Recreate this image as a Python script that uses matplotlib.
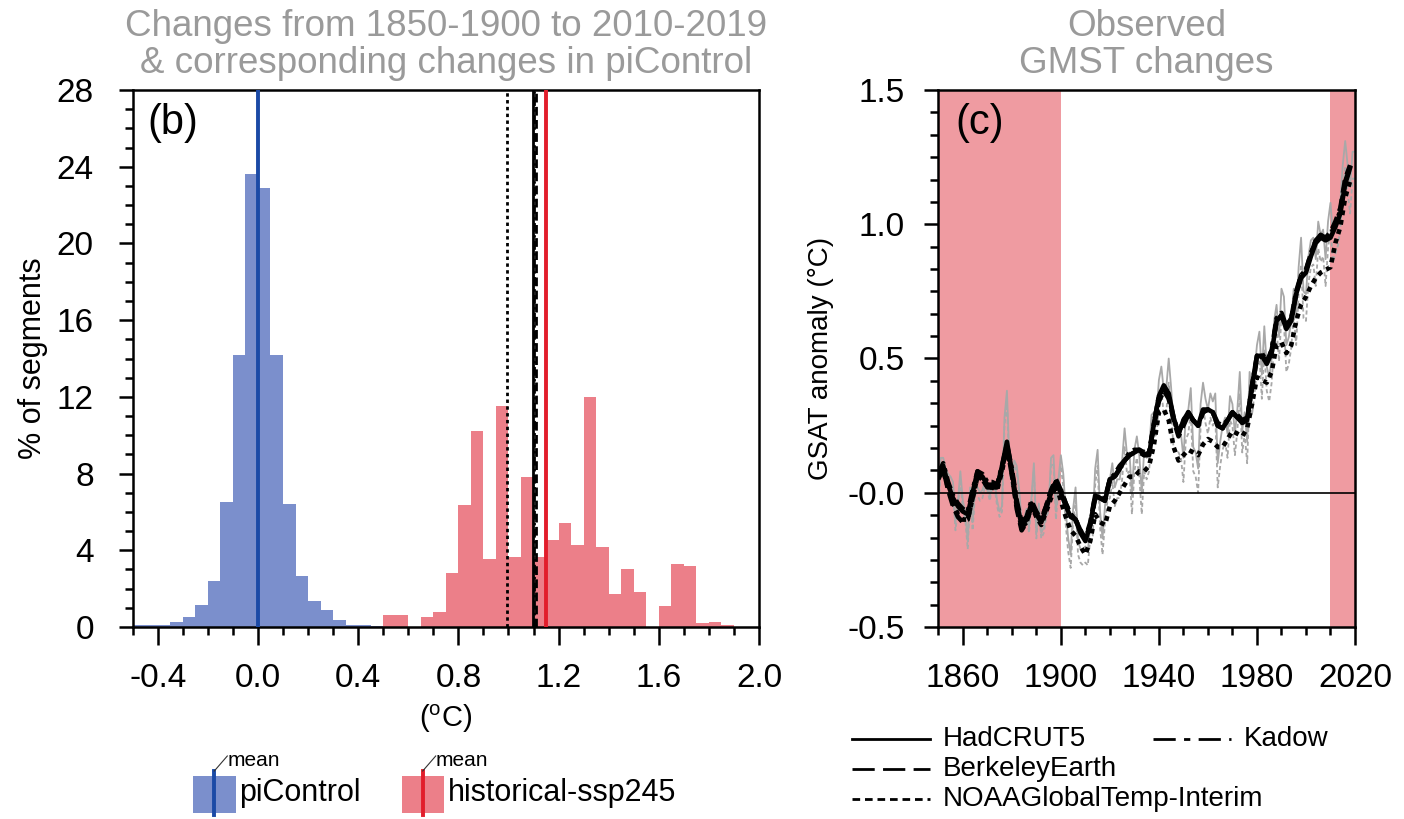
import numpy as np
import matplotlib
matplotlib.use('Agg')
import matplotlib.pyplot as plt
from matplotlib.patches import Rectangle
from matplotlib.lines import Line2D
from matplotlib.ticker import MultipleLocator

plt.rcParams['font.family'] = ['Liberation Sans', 'DejaVu Sans']
plt.rcParams['mathtext.fontset'] = 'custom'
plt.rcParams['mathtext.rm'] = 'Liberation Sans'
plt.rcParams['lines.scale_dashes'] = False

# ---- panel (b): histograms of changes (% of segments), 0.05 degC bins
BIN = 0.05
pi_bin_start = np.round(np.arange(-0.5, 0.5, BIN), 2)
pi_pct = [0.08, 0.10, 0.12, 0.28, 0.50, 1.15, 2.40, 6.50, 14.2, 23.6,
          22.9, 14.2, 6.40, 2.65, 1.35, 0.90, 0.38, 0.13, 0.10, 0.05]
hist_bin_start = np.round(np.arange(0.5, 1.9, BIN), 2)
hist_pct = [0.64, 0.64, 0.0, 0.52, 0.80, 2.80, 6.35, 10.2, 3.55, 11.5,
            3.65, 7.80, 3.65, 4.55, 5.40, 4.25, 12.0, 4.15, 1.70, 3.05,
            1.80, 0.0, 1.10, 3.30, 3.20, 0.20, 0.25, 0.10]
pi_mean = 0.0
hist_mean = 1.15
obs_names = ['HadCRUT5', 'BerkeleyEarth', 'NOAAGlobalTemp-Interim', 'Kadow']
obs_change = [1.097, 1.110, 0.995, 1.100]

# ---- panel (c): observed GMST anomalies relative to 1850-1900
years = np.arange(1850, 2021)
hadcrut5_annual = [
    -0.06, 0.13, 0.13, 0.09, 0.07, 0.06, 0.04, -0.11, -0.03, 0.08,
    -0.03, -0.07, -0.18, 0.02, -0.11, 0.03, 0.02, 0.00, 0.01, 0.04,
    0.03, -0.01, 0.04, 0.04, -0.03, -0.07, -0.05, 0.28, 0.38, 0.12,
    0.04, 0.12, 0.10, 0.01, -0.11, -0.10, -0.06, -0.13, -0.02, 0.11,
    -0.15, -0.04, -0.15, -0.13, -0.07, -0.05, 0.13, 0.14, -0.07, 0.05,
    0.14, 0.07, -0.07, -0.17, -0.23, -0.06, 0.02, -0.18, -0.21, -0.21,
    -0.20, -0.22, -0.12, -0.11, 0.09, 0.16, -0.07, -0.17, -0.05, 0.03,
    0.05, 0.11, 0.02, 0.05, 0.05, 0.12, 0.24, 0.14, 0.15, -0.01,
    0.16, 0.21, 0.14, 0.00, 0.16, 0.13, 0.16, 0.29, 0.30, 0.29,
    0.42, 0.47, 0.38, 0.39, 0.50, 0.39, 0.25, 0.25, 0.24, 0.22,
    0.13, 0.29, 0.31, 0.39, 0.17, 0.15, 0.09, 0.33, 0.41, 0.35,
    0.31, 0.37, 0.34, 0.37, 0.11, 0.19, 0.25, 0.28, 0.22, 0.36,
    0.33, 0.22, 0.31, 0.45, 0.23, 0.30, 0.19, 0.45, 0.37, 0.45,
    0.55, 0.60, 0.44, 0.62, 0.47, 0.43, 0.50, 0.64, 0.70, 0.58,
    0.76, 0.73, 0.55, 0.58, 0.64, 0.76, 0.65, 0.84, 0.95, 0.75,
    0.74, 0.88, 0.94, 0.95, 0.87, 1.01, 0.96, 0.98, 0.87, 1.01,
    1.08, 0.96, 0.99, 1.02, 1.08, 1.22, 1.31, 1.22, 1.14, 1.27,
    1.27]
noaa_annual = [
    -0.08, 0.10, 0.11, 0.06, 0.05, 0.03, 0.01, -0.14, -0.06, 0.05,
    -0.06, -0.10, -0.21, -0.01, -0.14, 0.00, -0.01, -0.03, -0.02, 0.02,
    0.01, -0.03, 0.02, 0.02, -0.05, -0.09, -0.07, 0.25, 0.33, 0.09,
    0.02, 0.10, 0.08, -0.01, -0.13, -0.12, -0.08, -0.15, -0.04, 0.09,
    -0.17, -0.06, -0.17, -0.15, -0.09, -0.07, 0.10, 0.11, -0.10, 0.02,
    0.10, 0.02, -0.12, -0.22, -0.28, -0.11, -0.03, -0.23, -0.26, -0.27,
    -0.26, -0.27, -0.17, -0.16, 0.03, 0.10, -0.13, -0.23, -0.11, -0.03,
    -0.02, 0.04, -0.05, -0.02, -0.02, 0.05, 0.17, 0.07, 0.08, -0.08,
    0.08, 0.13, 0.06, -0.08, 0.08, 0.05, 0.08, 0.21, 0.22, 0.21,
    0.33, 0.38, 0.29, 0.30, 0.41, 0.30, 0.16, 0.16, 0.15, 0.13,
    0.04, 0.20, 0.22, 0.30, 0.08, 0.06, 0.00, 0.24, 0.32, 0.26,
    0.22, 0.28, 0.25, 0.28, 0.02, 0.10, 0.16, 0.19, 0.13, 0.27,
    0.25, 0.14, 0.23, 0.37, 0.15, 0.22, 0.11, 0.37, 0.29, 0.37,
    0.46, 0.51, 0.35, 0.53, 0.38, 0.34, 0.41, 0.55, 0.61, 0.49,
    0.66, 0.63, 0.45, 0.48, 0.54, 0.66, 0.55, 0.74, 0.85, 0.65,
    0.64, 0.78, 0.84, 0.85, 0.77, 0.91, 0.86, 0.88, 0.77, 0.91,
    0.98, 0.86, 0.89, 0.92, 0.98, 1.12, 1.21, 1.12, 1.04, 1.17,
    1.17]

# smoothed curves, every second year 1850-2018
smooth_years = np.arange(1850, 2019, 2)
hadcrut5_smooth = [
    0.08, 0.10, 0.03, -0.02, -0.05, -0.07, -0.08, 0.00, 0.08, 0.06,
    0.03, 0.03, 0.02, 0.10, 0.19, 0.08, -0.04, -0.12, -0.10, -0.04,
    -0.08, -0.11, -0.06, 0.00, 0.04, 0.00, -0.05, -0.09, -0.10, -0.15,
    -0.18, -0.12, -0.01, -0.02, -0.03, 0.05, 0.06, 0.09, 0.12, 0.14,
    0.15, 0.16, 0.14, 0.14, 0.26, 0.36, 0.40, 0.37, 0.28, 0.22,
    0.27, 0.30, 0.27, 0.25, 0.31, 0.31, 0.30, 0.25, 0.24, 0.27,
    0.30, 0.28, 0.26, 0.27, 0.40, 0.51, 0.51, 0.48, 0.52, 0.64,
    0.66, 0.61, 0.64, 0.74, 0.80, 0.82, 0.88, 0.93, 0.95, 0.94,
    0.95, 0.99, 1.04, 1.15, 1.21]
berkeley_smooth = [
    0.05, 0.09, 0.01, -0.05, -0.09, -0.11, -0.10, -0.02, 0.06, 0.05,
    0.02, 0.02, 0.02, 0.09, 0.17, 0.07, -0.06, -0.14, -0.11, -0.05,
    -0.08, -0.10, -0.05, 0.01, 0.05, 0.01, -0.04, -0.08, -0.10, -0.14,
    -0.17, -0.11, -0.01, -0.02, -0.03, 0.05, 0.06, 0.09, 0.12, 0.14,
    0.15, 0.15, 0.14, 0.15, 0.25, 0.34, 0.38, 0.35, 0.27, 0.21,
    0.25, 0.29, 0.27, 0.25, 0.30, 0.31, 0.30, 0.26, 0.25, 0.27,
    0.30, 0.29, 0.27, 0.28, 0.39, 0.50, 0.51, 0.49, 0.53, 0.64,
    0.66, 0.62, 0.65, 0.74, 0.81, 0.83, 0.89, 0.94, 0.96, 0.95,
    0.97, 1.01, 1.06, 1.17, 1.22]
noaa_smooth = [
    0.06, 0.08, 0.02, -0.04, -0.08, -0.10, -0.10, -0.02, 0.06, 0.05,
    0.02, 0.02, 0.01, 0.08, 0.17, 0.07, -0.05, -0.13, -0.11, -0.05,
    -0.09, -0.12, -0.07, -0.02, 0.03, -0.03, -0.09, -0.14, -0.16, -0.20,
    -0.23, -0.18, -0.08, -0.11, -0.12, -0.05, -0.03, 0.00, 0.03, 0.06,
    0.06, 0.08, 0.08, 0.10, 0.18, 0.30, 0.31, 0.27, 0.17, 0.12,
    0.14, 0.16, 0.15, 0.14, 0.18, 0.20, 0.19, 0.17, 0.17, 0.20,
    0.23, 0.22, 0.21, 0.24, 0.33, 0.43, 0.42, 0.41, 0.45, 0.55,
    0.56, 0.52, 0.55, 0.64, 0.70, 0.73, 0.77, 0.80, 0.82, 0.83,
    0.84, 0.93, 0.99, 1.10, 1.16]
kadow_smooth = [
    0.07, 0.11, 0.04, -0.01, -0.04, -0.06, -0.07, 0.01, 0.08, 0.07,
    0.04, 0.04, 0.03, 0.10, 0.18, 0.09, -0.03, -0.11, -0.09, -0.03,
    -0.07, -0.10, -0.05, 0.01, 0.04, 0.01, -0.04, -0.08, -0.10, -0.14,
    -0.17, -0.12, -0.02, -0.02, -0.02, 0.05, 0.07, 0.10, 0.12, 0.15,
    0.16, 0.16, 0.15, 0.15, 0.26, 0.36, 0.39, 0.36, 0.28, 0.22,
    0.27, 0.30, 0.27, 0.25, 0.30, 0.31, 0.30, 0.25, 0.24, 0.27,
    0.30, 0.28, 0.27, 0.27, 0.40, 0.51, 0.52, 0.49, 0.53, 0.65,
    0.67, 0.62, 0.65, 0.75, 0.81, 0.83, 0.89, 0.94, 0.96, 0.95,
    0.96, 1.00, 1.05, 1.16, 1.21]
baseline_period = [1850, 1900]
recent_period = [2010, 2020]
gsat_ticks = [-0.5, 0.0, 0.5, 1.0, 1.5]
gsat_ticklabels = ['-0.5', '-0.0', '0.5', '1.0', '1.5']

# ---- styles
BLUE_FILL = '#7b8fcc'
BLUE_LINE = '#1b4aa6'
RED_FILL = '#ec7f89'
RED_LINE = '#e21d2b'
SHADE = '#ef9ba1'
GREY_TXT = '#9a9a9a'
GREY_LINE = '#a8a8a8'
# dash patterns (points) for the thick curves and for the legend keys
DASHES = {'HadCRUT5': None, 'BerkeleyEarth': (9, 4.5),
          'NOAAGlobalTemp-Interim': (3.5, 3.5), 'Kadow': (9, 3.5, 2.5, 3.5)}
LEG_DASHES = {'HadCRUT5': None, 'BerkeleyEarth': (16, 6),
              'NOAAGlobalTemp-Interim': (5.5, 3.5),
              'Kadow': (16, 6, 4.5, 6)}

W, H = 1404, 819
fig = plt.figure(figsize=(W / 100, H / 100), dpi=100)


def fx(px):
    return px / W


def fy(py):
    return 1 - py / H


def style_axes(ax):
    for s in ax.spines.values():
        s.set_linewidth(1.8)
    ax.tick_params(which='both', direction='out', width=1.8,
                   top=False, right=False, labelsize=24)
    ax.tick_params(which='major', length=10)
    ax.tick_params(which='minor', length=5.5)


# ================= panel (b)
ax1 = fig.add_axes([fx(132.7), fy(627), (759 - 132.7) / W, (627 - 90) / H])
ax1.bar(pi_bin_start, pi_pct, width=BIN, align='edge', color=BLUE_FILL,
        linewidth=0, zorder=1)
ax1.bar(hist_bin_start, hist_pct, width=BIN, align='edge', color=RED_FILL,
        linewidth=0, zorder=1)
ax1.axvline(pi_mean, color=BLUE_LINE, lw=2.8, zorder=3)
for name, val in zip(obs_names, obs_change):
    ln = ax1.axvline(val, color='black', lw=2.0, zorder=3)
    if DASHES[name] is not None:
        ln.set_dashes(tuple(x * 0.7 for x in DASHES[name]))
ax1.axvline(hist_mean, color=RED_LINE, lw=2.8, zorder=4)

ax1.set_xlim(-0.5, 2.0)
ax1.set_ylim(0, 28)
ax1.xaxis.set_major_locator(MultipleLocator(0.4))
ax1.xaxis.set_minor_locator(MultipleLocator(0.1))
ax1.yaxis.set_major_locator(MultipleLocator(4))
ax1.yaxis.set_minor_locator(MultipleLocator(1))
ax1.xaxis.set_major_formatter(plt.FuncFormatter(lambda v, p: '%.1f' % v))
style_axes(ax1)
ax1.tick_params(axis='x', which='major', length=13, pad=13)
ax1.tick_params(axis='y', which='major', pad=18)
ax1.set_ylabel('% of segments', fontsize=22, labelpad=6)
ax1.set_xlabel(r'($^{\rm o}$C)', fontsize=21, labelpad=6)
ax1.set_title('Changes from 1850-1900 to 2010-2019\n'
              '& corresponding changes in piControl',
              color=GREY_TXT, fontsize=26.5, linespacing=1.1, pad=12)
ax1.text(0.024, 0.975, '(b)', transform=ax1.transAxes, fontsize=30,
         va='top', ha='left')

# ================= panel (c)
ax2 = fig.add_axes([fx(938.3), fy(627), (1355 - 938.3) / W, (627 - 90) / H])
ax2.axvspan(*baseline_period, color=SHADE, lw=0, zorder=0)
ax2.axvspan(*recent_period, color=SHADE, lw=0, zorder=0)
ax2.plot(years, hadcrut5_annual, color=GREY_LINE, lw=1.3, zorder=2)
ax2.plot(years, noaa_annual, color=GREY_LINE, lw=1.3, dashes=(3, 2),
         zorder=2)
ax2.axhline(0, color='black', lw=1.2, zorder=3)
smooth = {'HadCRUT5': hadcrut5_smooth, 'BerkeleyEarth': berkeley_smooth,
          'NOAAGlobalTemp-Interim': noaa_smooth, 'Kadow': kadow_smooth}
for name in ['NOAAGlobalTemp-Interim', 'Kadow', 'BerkeleyEarth', 'HadCRUT5']:
    ln, = ax2.plot(smooth_years, smooth[name], color='black', lw=3.3,
                   zorder=4, solid_joinstyle='round')
    if DASHES[name] is not None:
        ln.set_dashes(DASHES[name])

ax2.set_xlim(1850, 2020)
ax2.set_ylim(-0.5, 1.5)
ax2.xaxis.set_minor_locator(MultipleLocator(10))
ax2.set_xticks([1860, 1900, 1940, 1980, 2020])
ax2.set_yticks(gsat_ticks)
ax2.set_yticklabels(gsat_ticklabels)
ax2.yaxis.set_minor_locator(MultipleLocator(0.5 / 6))
style_axes(ax2)
ax2.tick_params(axis='x', which='major', length=13, pad=13)
ax2.tick_params(axis='y', which='major', pad=14)
ax2.set_ylabel('GSAT anomaly (°C)', fontsize=20, labelpad=10)
ax2.set_title('Observed\nGMST changes', color=GREY_TXT, fontsize=26.5,
              linespacing=1.1, pad=12)
ax2.text(0.04, 0.975, '(c)', transform=ax2.transAxes, fontsize=30,
         va='top', ha='left')

# ================= legend, panel (b)
for x0, fill, line, label in [(193.3, BLUE_FILL, BLUE_LINE, 'piControl'),
                              (401.7, RED_FILL, RED_LINE,
                               'historical-ssp245')]:
    fig.add_artist(Rectangle((fx(x0), fy(812.7)), 42.4 / W, 37 / H,
                             transform=fig.transFigure, color=fill, lw=0))
    xm = x0 + 21
    fig.add_artist(Line2D([fx(xm), fx(xm)], [fy(815), fy(771)],
                          transform=fig.transFigure, color=line, lw=2.8))
    fig.add_artist(Line2D([fx(xm), fx(xm + 13)], [fy(771), fy(756)],
                          transform=fig.transFigure, color='#333333',
                          lw=0.8))
    fig.text(fx(xm + 13), fy(761), 'mean', fontsize=15, va='center',
             ha='left')
    fig.text(fx(x0 + 46), fy(793), label, fontsize=22, va='center',
             ha='left')

# ================= legend, panel (c)
leg_rows = [('HadCRUT5', 852, 739), ('BerkeleyEarth', 852, 769),
            ('NOAAGlobalTemp-Interim', 852, 799), ('Kadow', 1153, 739)]
for name, x0, y0 in leg_rows:
    ln = Line2D([fx(x0), fx(x0 + 78)], [fy(y0), fy(y0)],
                transform=fig.transFigure, color='black', lw=2.0)
    if LEG_DASHES[name] is not None:
        ln.set_dashes(LEG_DASHES[name])
    fig.add_artist(ln)
    fig.text(fx(x0 + 91), fy(y0), name, fontsize=20, va='center',
             ha='left')

fig.savefig('out.png', dpi=100)
